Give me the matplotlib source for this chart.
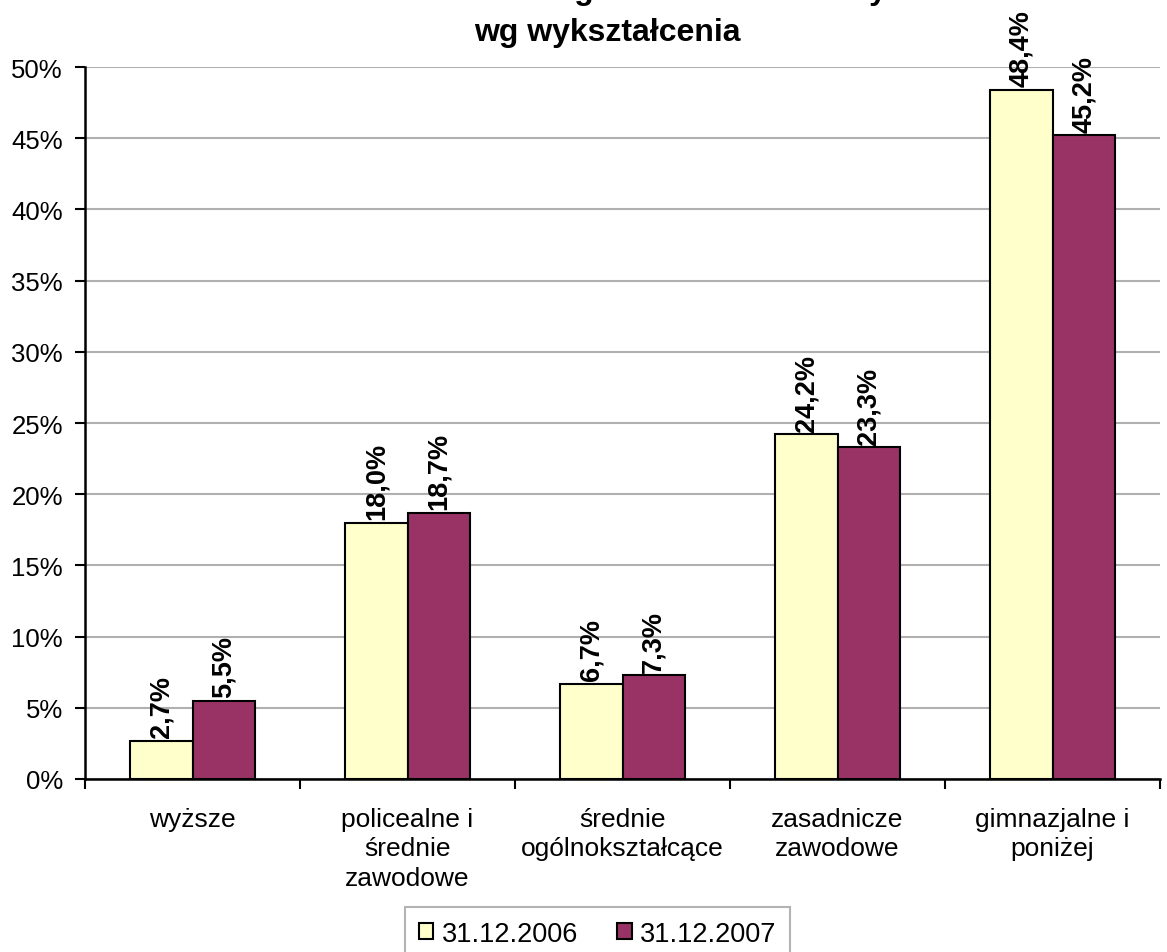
import matplotlib
matplotlib.use("Agg")
import matplotlib.pyplot as plt
import numpy as np

categories = ["wyższe", "policealne i\nśrednie\nzawodowe", "średnie\nogólnokształcące",
              "zasadnicze\nzawodowe", "gimnazjalne i\nponiżej"]
series_names = ["31.12.2006", "31.12.2007"]
values_2006 = [2.7, 18.0, 6.7, 24.2, 48.4]
values_2007 = [5.5, 18.7, 7.3, 23.3, 45.2]
yticks = [0, 5, 10, 15, 20, 25, 30, 35, 40, 45, 50]
title_line1 = "Struktura osób długotrwale bezrobotnych"
title_line2 = "wg wykształcenia"

plt.rcParams['font.family'] = ['Liberation Sans', 'DejaVu Sans']

W, H = 1167, 953
fig = plt.figure(figsize=(W / 100, H / 100), dpi=100)
ax = fig.add_axes([85 / W, 1 - 780 / H, (1160 - 85) / W, (780 - 68) / H])

x = np.arange(len(categories))
bw = 0.29
colors = ["#FFFFCC", "#993366"]
series = [values_2006, values_2007]
for i, (vals, c, name) in enumerate(zip(series, colors, series_names)):
    pos = x + (i - 0.5) * bw
    bars = ax.bar(pos, vals, width=bw, color=c, edgecolor="black", linewidth=1.5,
                  label=name, zorder=3)
    for b, v in zip(bars, vals):
        ax.annotate(f"{v:.1f}%".replace(".", ","),
                    xy=(b.get_x() + b.get_width() / 2, v),
                    xytext=(0, 2.5), textcoords="offset points",
                    rotation=90, ha="center", va="bottom",
                    fontsize=19.5, fontweight="bold", zorder=4)

ax.set_xlim(-0.5, len(categories) - 0.5)
ax.set_ylim(0, 50)
ax.set_yticks(yticks)
ax.set_yticklabels([f"{t}%" for t in yticks], fontsize=18.5)
ax.yaxis.grid(True, color="#B0B0B0", linewidth=1.5, zorder=0)
ax.set_axisbelow(True)

ax.set_xticks(np.arange(len(categories) + 1) - 0.5)
ax.set_xticklabels([])
ax.set_xticks(x, minor=True)
ax.set_xticklabels(categories, minor=True, fontsize=19, linespacing=1.3, va="top")
ax.tick_params(axis="x", which="minor", length=0, pad=20)
ax.tick_params(axis="x", which="major", length=7, width=1.5, direction="out")
ax.tick_params(axis="y", length=7, width=1.5, direction="out", pad=9)

for s in ["top", "right"]:
    ax.spines[s].set_visible(False)
for s in ["left", "bottom"]:
    ax.spines[s].set_linewidth(1.8)

fig.text(607 / W, 1 + 1 / H, title_line1, ha="center", va="baseline",
         fontsize=23, fontweight="bold")
fig.text(607 / W, 1 - 41 / H, title_line2, ha="center", va="baseline",
         fontsize=23, fontweight="bold")

leg = fig.legend(loc="upper left", bbox_to_anchor=(405 / W, 1 - 908 / H), ncol=2,
                 fontsize=19.5, frameon=True, fancybox=False, handlelength=0.55,
                 handleheight=0.55, handletextpad=0.3, columnspacing=1.45,
                 borderpad=0.5, borderaxespad=0)
leg.get_frame().set_edgecolor("#A0A0A0")
leg.get_frame().set_linewidth(1.5)
for h in leg.legend_handles:
    h.set_linewidth(1.5)

fig.savefig("out.png", dpi=100)
